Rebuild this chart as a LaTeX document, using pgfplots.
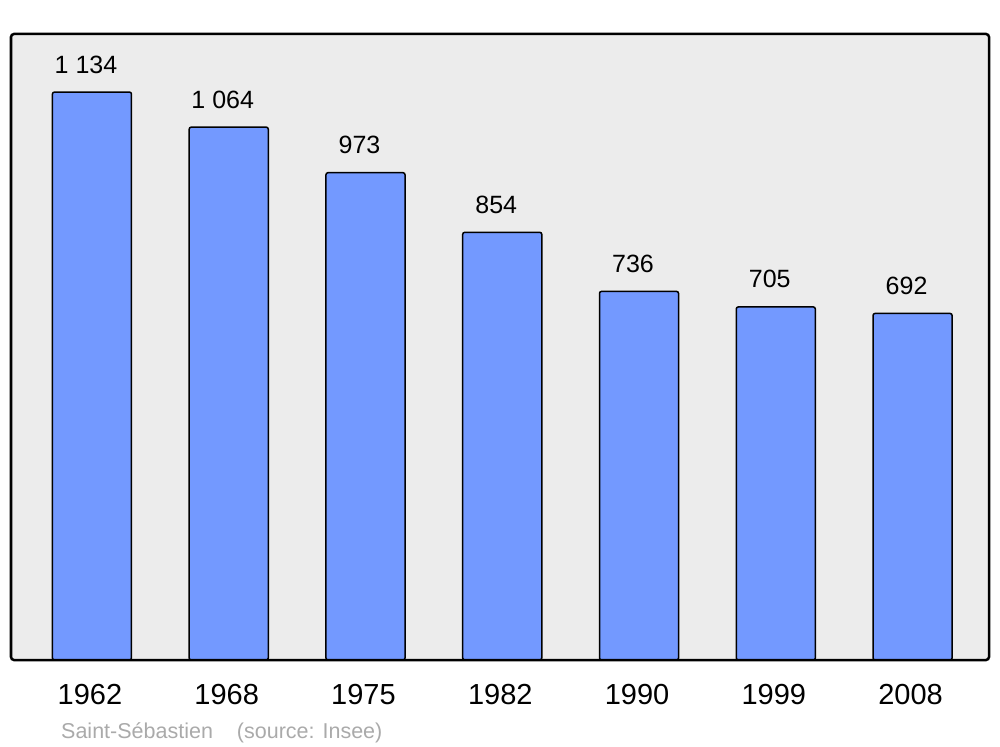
\documentclass[border=0pt]{standalone}
\usepackage{fontspec}
\setmainfont{Liberation Sans}
\usepackage{pgfplots}
\pgfplotsset{compat=1.18}
\definecolor{bg}{RGB}{236,236,236}
\definecolor{barc}{RGB}{115,153,255}
\definecolor{capc}{RGB}{170,170,170}
\begin{document}
\begin{tikzpicture}
\path[use as bounding box] (-11bp,-87bp) rectangle (989bp,660bp);
\begin{axis}[at={(0,0)}, anchor=south west, scale only axis,
  width=978bp, height=626bp,
  xmin=-0.592, xmax=6.559, ymin=0, ymax=1250,
  ybar, bar width=0.578,
  axis line style={draw=none},
  axis background/.style={fill=bg},
  ytick=\empty, xtick=data,
  xticklabels={1962,1968,1975,1982,1990,1999,2008},
  major tick length=0,
  xticklabel style={font=\fontsize{29bp}{31bp}\selectfont, inner sep=0, anchor=north, yshift=-24bp, xshift=-2bp},
  nodes near coords, point meta=explicit symbolic,
  every node near coord/.append style={font=\fontsize{25bp}{27bp}\selectfont, inner sep=0, anchor=south, yshift=18bp, xshift=-6bp},
  clip=false]
\addplot[fill=barc, draw=black, line width=1.5bp, rounded corners=2bp] coordinates {
  (0,1134) [1 134]
  (1,1064) [1 064]
  (2,973) [973]
  (3,854) [854]
  (4,736) [736]
  (5,705) [705]
  (6,692) [692]
};
\draw[line width=2.5bp, rounded corners=3bp] (rel axis cs:0,0) rectangle (rel axis cs:1,1);
\end{axis}
\node[anchor=base west, text=capc, font=\fontsize{21.5bp}{23bp}\selectfont, inner sep=0] at (50bp,-78bp) {Saint-Sébastien\hspace*{24bp}(source: Insee)};
\end{tikzpicture}
\end{document}
